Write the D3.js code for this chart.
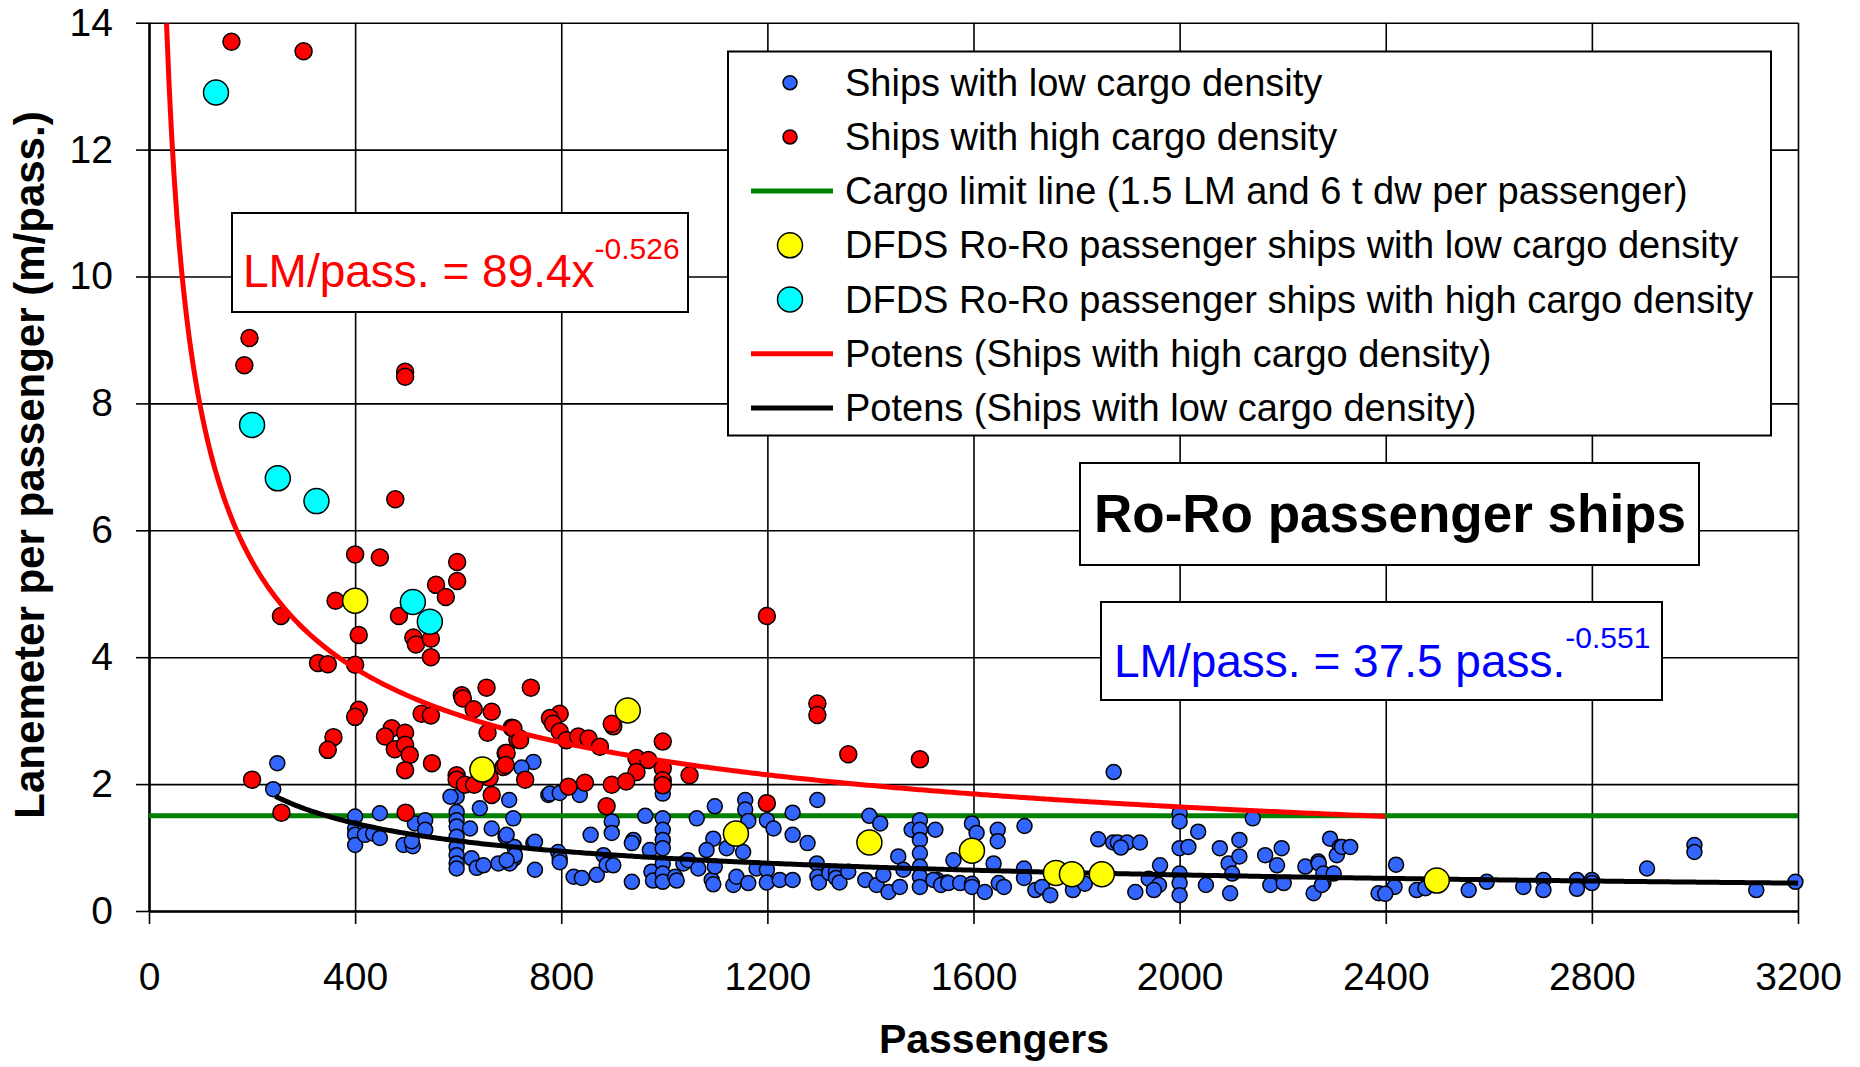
<!DOCTYPE html>
<html>
<head>
<meta charset="utf-8">
<script src="https://cdn.jsdelivr.net/npm/d3@7"></script>
<style>
  body { margin: 0; background: #fff; }
  text { font-family: Arial, "Liberation Sans", sans-serif; }
</style>
</head>
<body>
<script>
// ---- data (passengers, lanemeter per passenger) ----
const xTicks = [0, 400, 800, 1200, 1600, 2000, 2400, 2800, 3200];
const yTicks = [0, 2, 4, 6, 8, 10, 12, 14];

const lowShips = [
  [249,2.33],[241,1.92],[400,1.49],[400,1.30],[400,1.20],[400,1.04],[419,1.20],[435,1.22],
  [448,1.54],[448,1.15],[516,1.38],[536,1.43],[536,1.28],[494,1.04],[512,1.02],[510,1.10],
  [597,1.80],[597,1.56],[597,1.43],[597,1.33],[597,1.17],[597,1.01],[597,0.88],[597,0.75],[597,0.67],
  [585,1.80],[623,1.30],[642,1.62],[626,0.83],[636,0.68],[649,0.72],[665,1.30],[678,0.75],[692,1.17],
  [699,1.75],[707,1.46],[709,1.01],[709,0.83],[700,0.75],[749,0.65],[746,1.07],[746,2.35],[723,2.26],
  [775,1.83],[694,1.20],[710,0.88],[694,0.80],[749,1.09],[778,1.85],[797,1.86],[836,1.83],[794,0.93],
  [797,0.83],[797,0.77],[824,0.54],[840,0.52],[857,1.20],[869,0.57],[882,0.88],[888,0.73],[898,1.41],
  [898,1.23],[901,0.72],[940,1.12],[937,1.07],[937,0.46],[963,1.50],[972,0.96],[975,0.62],[978,0.48],
  [997,1.85],[997,1.46],[997,1.28],[997,1.12],[997,0.99],[997,0.75],[997,0.59],[997,0.46],
  [1021,0.54],[1024,0.48],[1037,0.75],[1046,0.80],[1066,0.67],[1063,1.46],[1098,1.65],[1095,1.14],
  [1082,0.96],[1092,0.49],[1095,0.42],[1098,0.70],[1121,0.99],[1134,0.41],[1140,0.54],[1157,1.75],
  [1157,1.60],[1163,1.42],[1153,0.93],[1163,0.44],[1179,0.67],[1199,1.43],[1199,0.65],[1199,0.45],
  [1212,1.30],[1224,0.49],[1249,1.55],[1249,1.20],[1249,0.49],[1278,1.07],[1297,1.75],[1296,0.75],
  [1297,0.54],[1300,0.45],[1320,0.60],[1333,0.62],[1333,0.52],[1340,0.45],[1357,0.62],[1390,0.49],
  [1398,1.50],[1419,1.38],[1412,0.41],[1425,0.57],[1435,0.30],[1457,0.38],[1454,0.86],[1464,0.65],
  [1480,1.28],[1496,1.43],[1496,1.28],[1496,1.12],[1496,0.91],[1496,0.70],[1496,0.54],[1496,0.38],
  [1526,1.28],[1529,0.49],[1548,0.45],[1872,2.19],[1561,0.80],[1522,0.49],[1537,0.41],[1551,0.44],
  [1574,0.44],[1597,1.38],[1606,1.23],[1597,0.43],[1597,0.38],[1622,0.30],[1639,0.75],[1647,1.28],
  [1647,1.10],[1649,0.44],[1659,0.38],[1699,1.34],[1698,0.67],[1698,0.52],[1720,0.33],[1733,0.38],
  [1749,0.25],[1793,0.44],[1793,0.33],[1816,0.43],[1842,1.13],[1871,1.08],[1880,1.08],[1898,1.08],
  [1923,1.08],[1886,1.00],[1914,0.30],[1940,0.51],[1962,0.72],[1960,0.41],[1950,0.33],
  [2000,1.54],[2000,1.41],[2000,0.99],[2000,0.59],[2000,0.44],[2000,0.25],[2017,1.01],[2036,1.25],
  [2051,0.41],[2078,0.99],[2095,0.75],[2098,0.28],[2102,0.59],[2116,1.12],[2116,0.86],[2142,1.46],
  [2166,0.88],[2176,0.41],[2189,0.72],[2198,0.99],[2202,0.44],[2244,0.70],[2260,0.28],[2269,0.78],
  [2279,0.44],[2292,1.14],[2311,1.01],[2305,0.88],[2315,1.01],[2331,1.01],[2270,0.75],[2279,0.59],
  [2299,0.59],[2276,0.41],[2420,0.73],[2417,0.38],[2386,0.28],[2399,0.27],[2460,0.33],[2477,0.36],
  [2561,0.33],[2596,0.46],[2667,0.38],[2706,0.49],[2706,0.33],[2771,0.49],[2771,0.35],[2800,0.49],
  [2800,0.44],[2907,0.67],[2999,1.04],[2999,0.93],[3119,0.33],[3195,0.46]
];

const highShips = [
  [160,13.7],[300,13.55],[195,9.03],[185,8.6],[497,8.5],[497,8.42],[478,6.49],[400,5.62],[448,5.57],
  [598,5.5],[598,5.2],[557,5.14],[576,4.95],[362,4.89],[256,4.65],[485,4.65],[407,4.35],[513,4.31],
  [518,4.2],[547,4.29],[547,4.0],[328,3.91],[347,3.89],[400,3.88],[407,3.17],[400,3.06],[358,2.74],
  [347,2.54],[529,3.11],[547,3.08],[607,3.4],[609,3.35],[655,3.52],[741,3.52],[630,3.18],[665,3.14],
  [657,2.81],[704,2.89],[720,2.72],[715,2.7],[471,2.88],[497,2.81],[458,2.75],[477,2.55],[497,2.62],
  [506,2.46],[497,2.22],[549,2.33],[692,2.49],[688,2.27],[730,2.07],[597,2.14],[597,2.07],[613,1.99],
  [631,1.99],[665,1.83],[661,2.1],[200,2.07],[257,1.55],[498,1.55],[1199,4.65],[1297,3.27],[1297,3.09],
  [1357,2.47],[1496,2.39],[901,2.91],[898,2.95],[797,3.11],[778,3.04],[784,2.95],[797,2.83],[810,2.69],
  [833,2.75],[853,2.72],[875,2.59],[707,2.88],[720,2.69],[694,2.49],[692,2.30],[997,2.67],[946,2.41],
  [969,2.38],[946,2.19],[997,2.25],[997,2.06],[997,1.98],[1049,2.14],[814,1.96],[846,2.02],[898,1.99],
  [926,2.04],[888,1.65],[1199,1.70]
];

const dfdsLow = [[400,4.89],[647,2.23],[929,3.16],[1139,1.22],[1398,1.08],[1597,0.95],[1760,0.60],[1791,0.58],[1849,0.58],[2499,0.48]];
const dfdsHigh = [[130,12.9],[200,7.66],[250,6.82],[325,6.46],[512,4.87],[545,4.56]];

// cargo limit line and the two power trend lines (coefficients printed on the chart)
const cargoLimit = 1.5;
const fitHigh = { a: 89.4, b: -0.526, from: 34, to: 2400 };
const fitLow = { a: 37.5, b: -0.551, from: 245, to: 3200 };

const legendItems = [
  { label: "Ships with low cargo density", kind: "dot", fill: "#3366ff", r: 7 },
  { label: "Ships with high cargo density", kind: "dot", fill: "#ff0000", r: 7 },
  { label: "Cargo limit line (1.5 LM and 6 t dw per passenger)", kind: "line", color: "#008000" },
  { label: "DFDS Ro-Ro passenger ships with low cargo density", kind: "dot", fill: "#ffff00", r: 12.5 },
  { label: "DFDS Ro-Ro passenger ships with high cargo density", kind: "dot", fill: "#00ffff", r: 12.5 },
  { label: "Potens (Ships with high cargo density)", kind: "line", color: "#ff0000" },
  { label: "Potens (Ships with low cargo density)", kind: "line", color: "#000000" }
];

// ---- layout ----
const w = 1860, h = 1067;
const plotLeft = 149, plotRight = 1798, plotTop = 22.7, plotBottom = 911;

const svg = d3.select("body").append("svg").attr("width", w).attr("height", h);

const x = d3.scaleLinear().domain([0, 3200]).range([plotLeft, plotRight]);
const y = d3.scaleLinear().domain([0, 14]).range([plotBottom, plotTop]);

// grid
svg.append("g").attr("transform", `translate(0,${plotBottom})`)
  .call(d3.axisBottom(x).tickValues(xTicks).tickSize(-(plotBottom - plotTop)).tickFormat(""))
  .call(g => g.select(".domain").remove())
  .call(g => g.selectAll("line").attr("stroke", "#000").attr("stroke-width", 1.6));
svg.append("g").attr("transform", `translate(${plotLeft},0)`)
  .call(d3.axisLeft(y).tickValues(yTicks).tickSize(-(plotRight - plotLeft)).tickFormat(""))
  .call(g => g.select(".domain").remove())
  .call(g => g.selectAll("line").attr("stroke", "#000").attr("stroke-width", 1.6));

// axes with labels
const xAxis = svg.append("g").attr("transform", `translate(0,${plotBottom})`)
  .call(d3.axisBottom(x).tickValues(xTicks).tickFormat(d3.format("d"))
    .tickSize(13).tickPadding(38).tickSizeOuter(0));
const yAxis = svg.append("g").attr("transform", `translate(${plotLeft},0)`)
  .call(d3.axisLeft(y).tickValues(yTicks).tickFormat(d3.format("d"))
    .tickSize(13).tickPadding(23).tickSizeOuter(0));
[xAxis, yAxis].forEach(a => {
  a.select(".domain").attr("stroke", "#000").attr("stroke-width", 2.5);
  a.selectAll("line").attr("stroke", "#000").attr("stroke-width", 1.6);
  a.selectAll("text").attr("fill", "#000").style("font-size", "39px")
    .style("font-family", "Arial, 'Liberation Sans', sans-serif");
});

// axis titles
svg.append("text").attr("x", 994).attr("y", 1053).attr("text-anchor", "middle")
  .style("font-size", "41px").style("font-weight", "bold").text("Passengers");
svg.append("text").attr("transform", "translate(44,465) rotate(-90)").attr("text-anchor", "middle")
  .style("font-size", "42px").style("font-weight", "bold").text("Lanemeter per passenger (m/pass.)");

// cargo limit line
svg.append("line")
  .attr("x1", x(0)).attr("x2", x(3200)).attr("y1", y(cargoLimit)).attr("y2", y(cargoLimit))
  .attr("stroke", "#008000").attr("stroke-width", 5);

function dots(data, fill, r) {
  svg.append("g").selectAll("circle").data(data).enter().append("circle")
    .attr("cx", d => x(d[0])).attr("cy", d => y(d[1])).attr("r", r)
    .attr("fill", fill).attr("stroke", "#000").attr("stroke-width", 1.5);
}

dots(lowShips, "#3366ff", 7.5);
dots(highShips, "#ff0000", 8.5);

// trend lines
function trend(fit, color) {
  const pts = d3.range(fit.from, fit.to + 1, 5).map(v => [v, fit.a * Math.pow(v, fit.b)]);
  svg.append("path").datum(pts)
    .attr("d", d3.line().x(d => x(d[0])).y(d => y(d[1])))
    .attr("fill", "none").attr("stroke", color).attr("stroke-width", 5);
}
trend(fitHigh, "#ff0000");
trend(fitLow, "#000000");

dots(dfdsLow, "#ffff00", 12.5);
dots(dfdsHigh, "#00ffff", 12.5);

// legend
const leg = svg.append("g");
leg.append("rect").attr("x", 728).attr("y", 51.5).attr("width", 1043).attr("height", 384)
  .attr("fill", "#fff").attr("stroke", "#000").attr("stroke-width", 2);
legendItems.forEach((d, i) => {
  const cy = 82.7 + i * 54.2;
  if (d.kind === "dot") {
    leg.append("circle").attr("cx", 790).attr("cy", cy).attr("r", d.r)
      .attr("fill", d.fill).attr("stroke", "#000").attr("stroke-width", 1.5);
  } else {
    leg.append("line").attr("x1", 751).attr("x2", 833).attr("y1", cy).attr("y2", cy)
      .attr("stroke", d.color).attr("stroke-width", 5);
  }
  leg.append("text").attr("x", 845).attr("y", cy + 13)
    .style("font-size", "38px").attr("fill", "#000").text(d.label);
});

// equation boxes and title
svg.append("rect").attr("x", 232).attr("y", 213).attr("width", 456).attr("height", 99)
  .attr("fill", "#fff").attr("stroke", "#000").attr("stroke-width", 2);
const eq1 = svg.append("text").attr("x", 243).attr("y", 287).attr("fill", "#ff0000").style("font-size", "46px");
eq1.append("tspan").text("LM/pass. = 89.4x");
eq1.append("tspan").attr("dy", -28).style("font-size", "30px").text("-0.526");

svg.append("rect").attr("x", 1080).attr("y", 463).attr("width", 619).attr("height", 102)
  .attr("fill", "#fff").attr("stroke", "#000").attr("stroke-width", 2);
svg.append("text").attr("x", 1390).attr("y", 532).attr("text-anchor", "middle")
  .style("font-size", "53px").style("font-weight", "bold").text("Ro-Ro passenger ships");

svg.append("rect").attr("x", 1101).attr("y", 602).attr("width", 561).attr("height", 98)
  .attr("fill", "#fff").attr("stroke", "#000").attr("stroke-width", 2);
const eq2 = svg.append("text").attr("x", 1114).attr("y", 677).attr("fill", "#0000ff").style("font-size", "46px");
eq2.append("tspan").text("LM/pass. = 37.5 pass.");
eq2.append("tspan").attr("dy", -29).style("font-size", "30px").text("-0.551");
</script>
</body>
</html>
